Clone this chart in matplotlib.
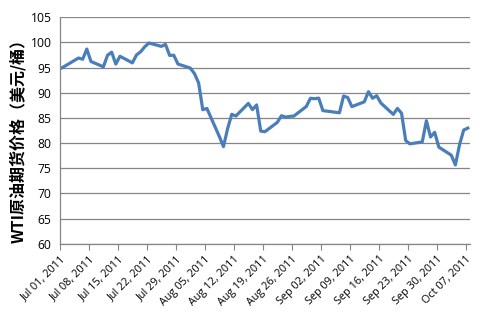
import matplotlib
matplotlib.use("Agg")
import matplotlib.pyplot as plt
import matplotlib.dates as mdates
import numpy as np
import pandas as pd

# WTI daily close, Jul-Oct 2011
dates = [
    "2011-07-01", "2011-07-05", "2011-07-06", "2011-07-07", "2011-07-08",
    "2011-07-11", "2011-07-12", "2011-07-13", "2011-07-14", "2011-07-15",
    "2011-07-18", "2011-07-19", "2011-07-20", "2011-07-21", "2011-07-22",
    "2011-07-25", "2011-07-26", "2011-07-27", "2011-07-28", "2011-07-29",
    "2011-08-01", "2011-08-02", "2011-08-03", "2011-08-04", "2011-08-05",
    "2011-08-08", "2011-08-09", "2011-08-10", "2011-08-11", "2011-08-12",
    "2011-08-15", "2011-08-16", "2011-08-17", "2011-08-18", "2011-08-19",
    "2011-08-22", "2011-08-23", "2011-08-24", "2011-08-25", "2011-08-26",
    "2011-08-29", "2011-08-30", "2011-08-31", "2011-09-01", "2011-09-02",
    "2011-09-06", "2011-09-07", "2011-09-08", "2011-09-09",
    "2011-09-12", "2011-09-13", "2011-09-14", "2011-09-15", "2011-09-16",
    "2011-09-19", "2011-09-20", "2011-09-21", "2011-09-22", "2011-09-23",
    "2011-09-26", "2011-09-27", "2011-09-28", "2011-09-29", "2011-09-30",
    "2011-10-03", "2011-10-04", "2011-10-05", "2011-10-06", "2011-10-07",
]
prices = [
    94.94, 96.89, 96.65, 98.67, 96.20,
    95.15, 97.43, 98.05, 95.69, 97.24,
    95.93, 97.50, 98.14, 99.13, 99.87,
    99.20, 99.59, 97.40, 97.44, 95.70,
    94.89, 93.79, 91.93, 86.63, 86.88,
    81.31, 79.30, 82.89, 85.72, 85.38,
    87.88, 86.65, 87.58, 82.38, 82.26,
    84.12, 85.44, 85.16, 85.30, 85.37,
    87.27, 88.90, 88.81, 88.93, 86.45,
    86.02, 89.34, 89.05, 87.24,
    88.19, 90.21, 88.91, 89.40, 87.96,
    85.70, 86.89, 85.92, 80.51, 79.85,
    80.24, 84.45, 81.21, 82.14, 79.20,
    77.61, 75.67, 79.68, 82.59, 82.98,
]
tick_dates = pd.date_range("2011-07-01", "2011-10-07", freq="7D")
y_ticks = list(range(60, 106, 5))
ylabel = "WTI原油期货价格（美元/桶）"

plt.rcParams["font.family"] = ["Open Sans", "DejaVu Sans"]

fig = plt.figure(figsize=(4.91, 3.30), dpi=100)
ax = fig.add_axes([0.122, 0.261, 0.835, 0.687])

# Excel date axis: each point sits in the middle of its day slot
x = pd.to_datetime(dates) + pd.Timedelta(hours=12)
ax.plot(x, prices, color="#4a7ebb", lw=2.3, solid_joinstyle="round")

ax.set_xlim(pd.Timestamp("2011-07-01"), pd.Timestamp("2011-10-08"))
ax.set_ylim(60, 105)
ax.set_yticks(y_ticks)
ax.set_xticks(tick_dates)
ax.xaxis.set_major_formatter(mdates.DateFormatter("%b %d, %Y"))

ax.grid(axis="y", color="#868686", lw=0.9)
ax.set_axisbelow(True)
for s in ("top", "right"):
    ax.spines[s].set_visible(False)
for s in ("left", "bottom"):
    ax.spines[s].set_color("#868686")
    ax.spines[s].set_linewidth(0.9)

ax.tick_params(axis="y", length=0, labelsize=8.7, pad=6)
ax.tick_params(axis="x", length=4, color="#868686", labelsize=7.8, pad=3)
for lab in ax.get_xticklabels():
    lab.set_rotation(45)
    lab.set_ha("right")
    lab.set_va("top")
    lab.set_rotation_mode("anchor")
    lab.set_x(0)

fig.text(0.037, 0.585, ylabel, rotation=90, ha="center", va="center",
         fontsize=11.5, fontweight="bold",
         family=["Noto Sans CJK SC", "DejaVu Sans"])

fig.savefig("out.png", dpi=100)
